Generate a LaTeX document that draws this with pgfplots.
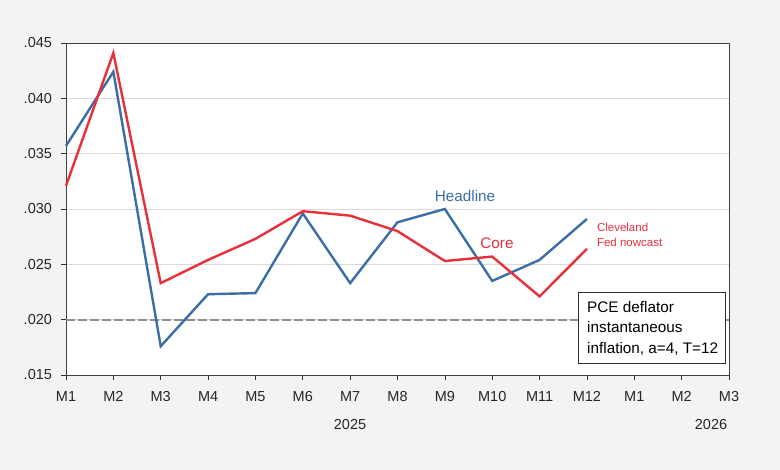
\documentclass[border=0pt]{standalone}
\usepackage{fontspec}
\setmainfont{Liberation Sans}
\usepackage{pgfplots}
\pgfplotsset{compat=1.18}
\definecolor{hblue}{HTML}{3A6EA5}
\definecolor{cred}{HTML}{E8303A}
\definecolor{bg}{HTML}{F3F3F3}
\definecolor{dgray}{HTML}{8E8E8E}
\begin{document}
\fontsize{14.5bp}{17bp}\selectfont
\begin{tikzpicture}
\fill[bg] (0,0) rectangle (780bp,470bp);
\useasboundingbox (0,0) rectangle (780bp,470bp);
\begin{axis}[at={(66bp,95bp)}, anchor=south west, scale only axis,
  width=663bp, height=332bp,
  xmin=0, xmax=14, ymin=0.015, ymax=0.045,
  scaled y ticks=false,
  xtick={0,1,2,3,4,5,6,7,8,9,10,11,12,13,14},
  xticklabels={M1,M2,M3,M4,M5,M6,M7,M8,M9,M10,M11,M12,M1,M2,M3},
  ytick={0.015,0.020,0.025,0.030,0.035,0.040,0.045},
  yticklabels={.015,.020,.025,.030,.035,.040,.045},
  ymajorgrids, grid style={color=black!15, line width=0.6bp},
  tick align=outside, major tick length=5bp,
  xtick pos=bottom, ytick pos=left,
  tick style={black!80, line width=0.6bp},
  axis line style={line width=0.8bp, black!75},
  axis background/.style={fill=white},
  tick label style={font=\fontsize{14.5bp}{17bp}\selectfont, text=black!85},
  xticklabel style={yshift=-6bp},
  yticklabel style={xshift=-4bp},
  clip=false,
]
\addplot[dgray, line width=1.8bp, dash pattern=on 9bp off 3bp] coordinates {(0,0.020) (14,0.020)};
\addplot[hblue, line width=2.4bp] coordinates {
(0,0.0357) (1,0.0424) (2,0.0176) (3,0.0223) (4,0.0224) (5,0.0296) (6,0.0233)
(7,0.0288) (8,0.0300) (9,0.0235) (10,0.0254) (11,0.0291)};
\addplot[cred, line width=2.4bp] coordinates {
(0,0.0321) (1,0.0441) (2,0.0233) (3,0.0254) (4,0.0273) (5,0.0298) (6,0.0294)
(7,0.0280) (8,0.0253) (9,0.0257) (10,0.0221) (11,0.0264)};
\end{axis}
\node[font=\fontsize{14.5bp}{17bp}\selectfont, text=black!85] at (350bp,45bp) {2025};
\node[font=\fontsize{14.5bp}{17bp}\selectfont, text=black!85] at (711bp,45bp) {2026};
\node[font=\fontsize{15.3bp}{18bp}\selectfont, text=hblue] at (465bp,274bp) {Headline};
\node[font=\fontsize{15.3bp}{18bp}\selectfont, text=cred] at (497bp,227bp) {Core};
\node[font=\fontsize{11.5bp}{15bp}\selectfont, text=cred, anchor=west, align=left] at (592bp,235bp) {Cleveland\\Fed nowcast};
\draw[draw=black!80, fill=white, line width=0.7bp] (578bp,107bp) rectangle (725bp,178bp);
\node[font=\fontsize{15.3bp}{20.5bp}\selectfont, anchor=west, align=left, inner sep=0pt] at (587bp,142bp) {PCE deflator\\instantaneous\\inflation, a=4, T=12};
\end{tikzpicture}
\end{document}
